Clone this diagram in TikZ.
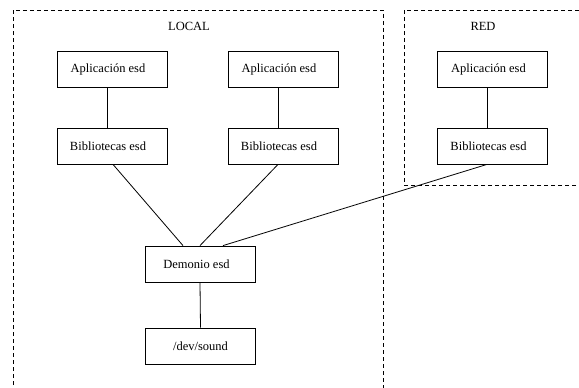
\documentclass[tikz,border=0pt]{standalone}
\usepackage{fontspec}
\setmainfont{Liberation Serif}
\begin{document}
\begin{tikzpicture}[x=1pt,y=-1pt,
  box/.style={draw,line width=0.8pt,rectangle,minimum width=110pt,minimum height=36pt,inner sep=0pt,font=\fontsize{12.5}{14}\selectfont},
  lshift/.style={execute at end node={\kern8pt}},
  zone/.style={draw,line width=0.8pt,dash pattern=on 4pt off 3pt},
  lbl/.style={font=\fontsize{12.5}{14}\selectfont,inner sep=0pt},
  conn/.style={line width=0.8pt}]
\useasboundingbox (0,0) rectangle (579,388);
% zones
\draw[zone] (13,392) -- (13,10) -- (383,10) -- (383,392);
\draw[zone] (590,185) -- (404,185) -- (404,10) -- (590,10);
\node[lbl] (local) at (189,26) {LOCAL};
\node[lbl] (red) at (483,26) {RED};
% boxes
\node[box,lshift] (app1) at (112,69) {Aplicación esd};
\node[box,lshift] (bib1) at (112,146) {Bibliotecas esd};
\node[box,lshift] (app2) at (283,69) {Aplicación esd};
\node[box,lshift] (bib2) at (283,146) {Bibliotecas esd};
\node[box,lshift] (app3) at (492.5,69) {Aplicación esd};
\node[box,lshift] (bib3) at (492.5,146) {Bibliotecas esd};
\node[box,lshift] (dem) at (200.5,264) {Demonio esd};
\node[box] (dev) at (200.5,346) {/dev/sound};
% connectors
\draw[conn] ([xshift=-5pt]app1.south) -- ([xshift=-5pt]bib1.north);
\draw[conn] ([xshift=-5pt]app2.south) -- ([xshift=-5pt]bib2.north);
\draw[conn] ([xshift=-5pt]app3.south) -- ([xshift=-5pt]bib3.north);
\draw[conn] ([xshift=1pt]bib1.south) -- ([xshift=-17.5pt]dem.north);
\draw[conn] ([xshift=-5pt]bib2.south) -- ([xshift=-0.5pt]dem.north);
\draw[conn] ([xshift=-5.5pt]bib3.south) -- ([xshift=22.5pt]dem.north);
\draw[conn] ([xshift=-0.5pt]dem.south) -- (dev.north);
\end{tikzpicture}
\end{document}
